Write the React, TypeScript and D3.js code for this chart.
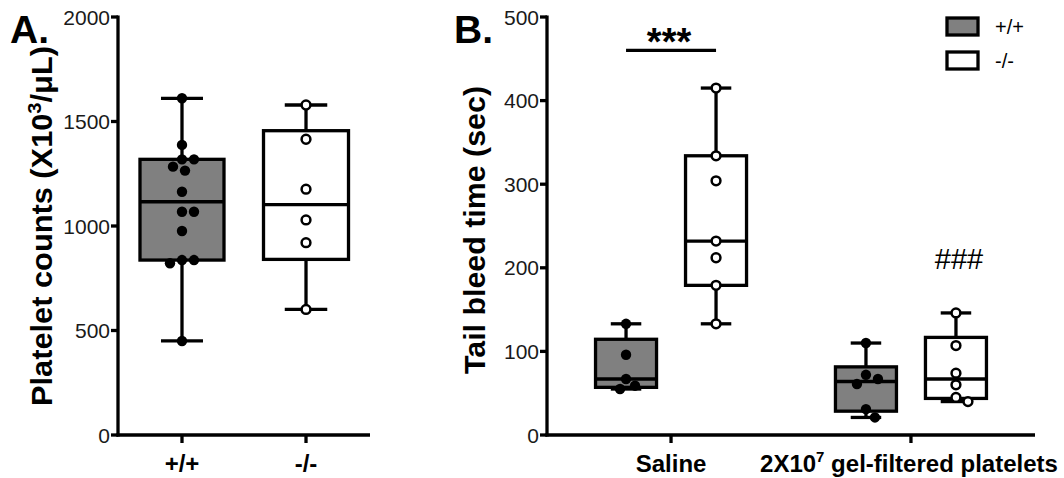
import React from 'react';
import * as d3 from 'd3';

const W = 1064;
const H = 478;
const FONT = "'Liberation Sans', Arial, Helvetica, sans-serif";

// ---------- Panel A data ----------
const genotypes = ['+/+', '-/-'];
const countsWT = [1611, 1388, 1319, 1319, 1284, 1265, 1164, 1068, 1068, 976, 837, 837, 822, 450];
const countsKO = [1579, 1415, 1176, 1029, 920, 601];
const countTicks = [0, 500, 1000, 1500, 2000];

// ---------- Panel B data ----------
const treatments = ['Saline', 'Platelets'];
const bleedSalineWT = [133, 96, 67, 59, 55];
const bleedSalineKO = [415, 334, 304, 232, 212, 179, 133];
const bleedPltWT = [110, 72, 67, 61, 31, 21];
const bleedPltKO = [146, 107, 74, 60, 45, 40];
const bleedTicks = [0, 100, 200, 300, 400, 500];
const sigBarValue = 460;

type Pt = { v: number; dx: number; py: number };

function quart(values: number[], p: number) {
  const s = [...values].sort((a, b) => a - b);
  const n = s.length;
  const pos = (n + 1) * p;
  if (pos <= 1) return s[0];
  if (pos >= n) return s[n - 1];
  const lo = Math.floor(pos);
  const f = pos - lo;
  return s[lo - 1] + f * (s[lo] - s[lo - 1]);
}

function swarm(values: number[], y: (v: number) => number, minDist: number, step: number): Pt[] {
  const placed: { x: number; y: number }[] = [];
  const sorted = [...values].sort((a, b) => b - a);
  return sorted.map((v) => {
    const py = y(v);
    for (let k = 0; k < 60; k++) {
      const cands = k === 0 ? [0] : [k * step, -k * step];
      for (const dx of cands) {
        if (placed.every((p) => (p.x - dx) ** 2 + (p.y - py) ** 2 >= minDist * minDist)) {
          placed.push({ x: dx, y: py });
          return { v, dx, py };
        }
      }
    }
    return { v, dx: 0, py };
  });
}

function BoxPlot({ values, cx, width, y, filled }: { values: number[]; cx: number; width: number; y: d3.ScaleLinear<number, number>; filled: boolean }) {
  const q1 = quart(values, 0.25);
  const q3 = quart(values, 0.75);
  const med = d3.median(values) as number;
  const mn = d3.min(values) as number;
  const mx = d3.max(values) as number;
  const capW = width / 2;
  const pts = swarm(values, (v) => y(v), 11, 3);
  const sw = 3.3;
  return (
    <g>
      <line x1={cx} x2={cx} y1={y(q3)} y2={y(mx)} stroke="#000" strokeWidth={sw} />
      <line x1={cx} x2={cx} y1={y(q1)} y2={y(mn)} stroke="#000" strokeWidth={sw} />
      <line x1={cx - capW / 2} x2={cx + capW / 2} y1={y(mx)} y2={y(mx)} stroke="#000" strokeWidth={sw} />
      <line x1={cx - capW / 2} x2={cx + capW / 2} y1={y(mn)} y2={y(mn)} stroke="#000" strokeWidth={sw} />
      <rect x={cx - width / 2} y={y(q3)} width={width} height={y(q1) - y(q3)} fill={filled ? '#808080' : '#fff'} stroke="#000" strokeWidth={sw} />
      <line x1={cx - width / 2} x2={cx + width / 2} y1={y(med)} y2={y(med)} stroke="#000" strokeWidth={sw} />
      {pts.map((p, i) =>
        filled ? (
          <circle key={i} cx={cx + p.dx} cy={p.py} r={5.2} fill="#000" />
        ) : (
          <circle key={i} cx={cx + p.dx} cy={p.py} r={4.4} fill="#fff" stroke="#000" strokeWidth={2.5} />
        )
      )}
    </g>
  );
}

function YAxis({ x, y, ticks }: { x: number; y: d3.ScaleLinear<number, number>; ticks: number[] }) {
  const [r0, r1] = y.range();
  return (
    <g>
      <line x1={x} x2={x} y1={r0 + 1.6} y2={r1 - 1.6} stroke="#000" strokeWidth={3.3} />
      {ticks.map((t) => (
        <g key={t}>
          <line x1={x - 7} x2={x} y1={y(t)} y2={y(t)} stroke="#000" strokeWidth={3.3} />
          <text x={x - 8} y={y(t)} dy="0.36em" textAnchor="end" fontSize={21} fill="#1a1a1a" fontFamily={FONT}>
            {t}
          </text>
        </g>
      ))}
    </g>
  );
}

export default function App() {
  // Panel A
  const yA = d3.scaleLinear().domain([0, 2000]).range([435, 17]);
  const xA = d3.scalePoint<string>().domain(genotypes).range([118, 370]).padding(0.516);
  const axisAY = 118;

  // Panel B
  const yB = d3.scaleLinear().domain([0, 500]).range([435, 17]);
  const xB = d3.scalePoint<string>().domain(treatments).range([547, 1035]).padding(0.517);
  const axisBY = 547;
  const sub = 45;
  const bwB = 61;

  const groupsB = [
    { t: treatments[0], wt: bleedSalineWT, ko: bleedSalineKO },
    { t: treatments[1], wt: bleedPltWT, ko: bleedPltKO },
  ];

  return (
    <svg width={W} height={H} style={{ position: 'absolute', left: 0, top: 0, background: '#fff' }} fontFamily={FONT}>
      <rect width={W} height={H} fill="#fff" />

      {/* ---------------- Panel A ---------------- */}
      <text x={10} y={43} fontSize={39} fontWeight="bold" fill="#000">A.</text>
      <text
        transform={`translate(52, 226) rotate(-90)`}
        textAnchor="middle"
        fontSize={29}
        fontWeight="bold"
        fill="#000"
        textLength={360}
        lengthAdjust="spacingAndGlyphs"
      >
        Platelet counts (X10<tspan dy={-11} fontSize={19}>3</tspan><tspan dy={11}>/μL)</tspan>
      </text>
      <BoxPlot values={countsWT} cx={xA(genotypes[0]) as number} width={84} y={yA} filled />
      <BoxPlot values={countsKO} cx={xA(genotypes[1]) as number} width={85} y={yA} filled={false} />
      <YAxis x={axisAY} y={yA} ticks={countTicks} />
      <line x1={axisAY - 1.6} x2={370} y1={435} y2={435} stroke="#000" strokeWidth={3.3} />
      {genotypes.map((g) => (
        <g key={g}>
          <line x1={xA(g) as number} x2={xA(g) as number} y1={435} y2={443} stroke="#000" strokeWidth={3.3} />
          <text x={xA(g) as number} y={472} textAnchor="middle" fontSize={24} fontWeight="bold" fill="#000">
            {g}
          </text>
        </g>
      ))}

      {/* ---------------- Panel B ---------------- */}
      <text x={454} y={43} fontSize={39} fontWeight="bold" fill="#000">B.</text>
      <text
        transform={`translate(485, 230) rotate(-90)`}
        textAnchor="middle"
        fontSize={29}
        fontWeight="bold"
        fill="#000"
        textLength={288}
        lengthAdjust="spacingAndGlyphs"
      >
        Tail bleed time (sec)
      </text>
      {groupsB.map((g) => {
        const c = xB(g.t) as number;
        return (
          <g key={g.t}>
            <BoxPlot values={g.wt} cx={c - sub} width={bwB} y={yB} filled />
            <BoxPlot values={g.ko} cx={c + sub} width={bwB} y={yB} filled={false} />
          </g>
        );
      })}
      <YAxis x={axisBY} y={yB} ticks={bleedTicks} />
      <line x1={axisBY - 1.6} x2={1035} y1={435} y2={435} stroke="#000" strokeWidth={3.3} />
      {treatments.map((t) => (
        <line key={t} x1={xB(t) as number} x2={xB(t) as number} y1={435} y2={443} stroke="#000" strokeWidth={3.3} />
      ))}
      <text x={xB(treatments[0]) as number} y={472} textAnchor="middle" fontSize={24} fontWeight="bold" fill="#000">
        Saline
      </text>
      <text x={(xB(treatments[1]) as number) - 2} y={472} textAnchor="middle" fontSize={24} fontWeight="bold" fill="#000">
        2X10<tspan dy={-10} fontSize={15}>7</tspan>
        <tspan dy={10}> gel-filtered platelets</tspan>
      </text>

      {/* significance */}
      <line
        x1={(xB(treatments[0]) as number) - sub}
        x2={(xB(treatments[0]) as number) + sub}
        y1={yB(sigBarValue)}
        y2={yB(sigBarValue)}
        stroke="#000"
        strokeWidth={3.3}
      />
      <text x={(xB(treatments[0]) as number) - 2} y={55} textAnchor="middle" fontSize={38} fontWeight="bold" fill="#000">***</text>
      <text x={(xB(treatments[1]) as number) + sub + 3} y={269} textAnchor="middle" fontSize={29} fill="#000">###</text>

      {/* legend */}
      <rect x={947} y={18} width={31} height={17} fill="#808080" stroke="#000" strokeWidth={3.3} />
      <rect x={947} y={52} width={31} height={17} fill="#fff" stroke="#000" strokeWidth={3.3} />
      <text x={995} y={26.5} dy="0.36em" fontSize={20} fill="#000">+/+</text>
      <text x={995} y={60.5} dy="0.36em" fontSize={20} fill="#000">-/-</text>
    </svg>
  );
}
